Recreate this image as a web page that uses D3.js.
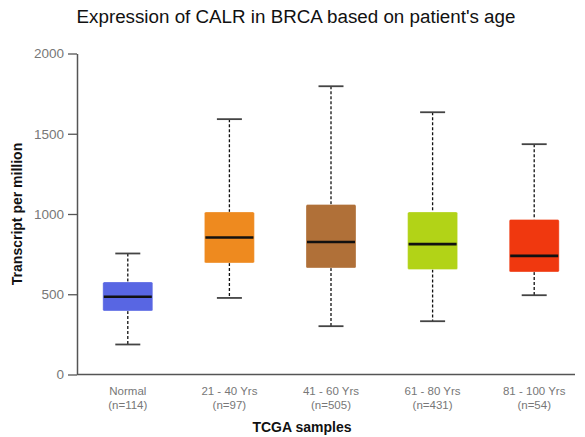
<!DOCTYPE html>
<html><head><meta charset="utf-8">
<script src="https://cdn.jsdelivr.net/npm/d3@7"></script>
<style>body{margin:0;background:#fff}svg{display:block}</style>
</head><body>
<svg id="c" width="585" height="437"></svg>
<script>
const categories = ["Normal","21 - 40 Yrs","41 - 60 Yrs","61 - 80 Yrs","81 - 100 Yrs"];
const counts = ["(n=114)","(n=97)","(n=505)","(n=431)","(n=54)"];
const whiskerLow = [187, 477, 301, 332, 494];
const q1 = [396, 695, 664, 654, 639];
const median = [484, 854, 826, 812, 739];
const q3 = [577, 1013, 1059, 1013, 966];
const whiskerHigh = [754, 1591, 1796, 1634, 1435];
const colors = ["#5866E3","#EE8A1F","#B07038","#B2D317","#F0380F"];
const yTicks = [0, 500, 1000, 1500, 2000];

const svg = d3.select("#c");
const x = d3.scaleBand().domain(categories).range([77, 585]);
const y = d3.scaleLinear().domain([0, 2000]).range([374.5, 53.5]);
const font = "'Liberation Sans', Arial, sans-serif";

// title
svg.append("text").attr("x", 296).attr("y", 23).attr("text-anchor","middle")
  .attr("font-family", font).attr("font-size", 18.8).attr("fill","#111")
  .text("Expression of CALR in BRCA based on patient's age");

// y axis
const ya = svg.append("g").attr("transform","translate(77,0)")
  .call(d3.axisLeft(y).tickValues(yTicks).tickFormat(d3.format("d")).tickSize(9).tickPadding(4).tickSizeOuter(0));
ya.select(".domain").attr("stroke","#555").attr("stroke-width",1.5);
ya.selectAll(".tick line").attr("stroke","#555").attr("stroke-width",1.3);
ya.selectAll(".tick text").attr("font-family",font).attr("font-size",13.5).attr("fill","#777");

// x axis line
svg.append("line").attr("x1",77).attr("x2",575).attr("y1",y(0)).attr("y2",y(0))
  .attr("stroke","#555").attr("stroke-width",1.5);

// x labels
categories.forEach((c,i)=>{
  const cx = x(c) + x.bandwidth()/2;
  const t = svg.append("text").attr("text-anchor","middle").attr("font-family",font)
    .attr("font-size",11.5).attr("fill","#777");
  t.append("tspan").attr("x",cx).attr("y",395).text(c);
  t.append("tspan").attr("x",cx).attr("y",409).text(counts[i]);
});

svg.append("text").attr("x",302).attr("y",432).attr("text-anchor","middle")
  .attr("font-family",font).attr("font-weight","bold").attr("font-size",14).attr("fill","#111")
  .text("TCGA samples");
svg.append("text").attr("transform","translate(22,214) rotate(-90)").attr("text-anchor","middle")
  .attr("font-family",font).attr("font-weight","bold").attr("font-size",14).attr("fill","#111")
  .text("Transcript per million");

const boxW = 50, capW = 25;
categories.forEach((c,i)=>{
  const cx = x(c) + x.bandwidth()/2;
  const g = svg.append("g");
  g.append("line").attr("x1",cx).attr("x2",cx).attr("y1",y(whiskerHigh[i])).attr("y2",y(q3[i]))
    .attr("stroke","#111").attr("stroke-width",1.3).attr("stroke-dasharray","3,2");
  g.append("line").attr("x1",cx).attr("x2",cx).attr("y1",y(q1[i])).attr("y2",y(whiskerLow[i]))
    .attr("stroke","#111").attr("stroke-width",1.3).attr("stroke-dasharray","3,2");
  [whiskerHigh[i], whiskerLow[i]].forEach(v=>{
    g.append("line").attr("x1",cx-capW/2).attr("x2",cx+capW/2).attr("y1",y(v)).attr("y2",y(v))
      .attr("stroke","#444").attr("stroke-width",1.8);
  });
  g.append("rect").attr("x",cx-boxW/2).attr("width",boxW).attr("y",y(q3[i]))
    .attr("height",y(q1[i])-y(q3[i])).attr("rx",1.5).attr("fill",colors[i])
    .attr("stroke","#fff").attr("stroke-opacity",0.4).attr("stroke-width",0.8);
  g.append("line").attr("x1",cx-boxW/2+1).attr("x2",cx+boxW/2-1).attr("y1",y(median[i])).attr("y2",y(median[i]))
    .attr("stroke","#111").attr("stroke-width",2.6);
});
</script>
</body></html>
